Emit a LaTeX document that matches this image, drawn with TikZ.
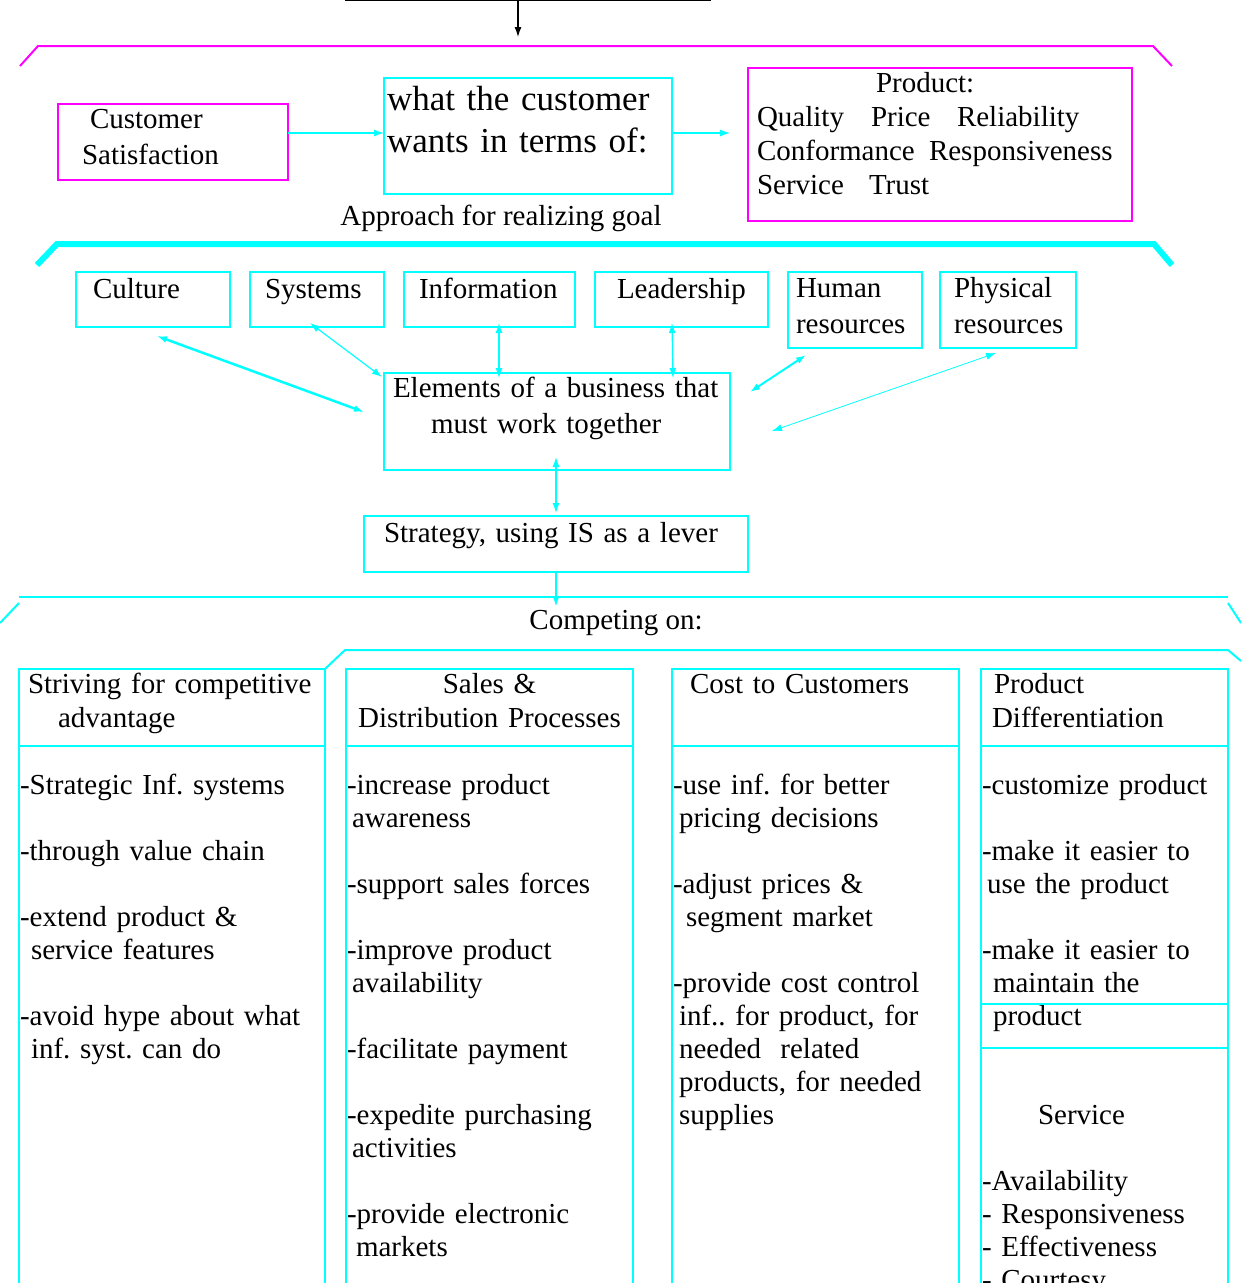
\documentclass[tikz,border=0pt]{standalone}
\usepackage{fontspec}
\setmainfont{Liberation Serif}
\usetikzlibrary{arrows.meta,positioning}
\definecolor{cy}{RGB}{0,255,255}
\definecolor{mg}{RGB}{255,0,255}
\hyphenpenalty=10000
\exhyphenpenalty=10000
\frenchspacing

\begin{document}
\begin{tikzpicture}[
    x=1pt, y=-1pt,
    every node/.style={font=\fontsize{29}{33}\selectfont},
    box/.style={rectangle, draw, line width=2pt, anchor=north west, inner ysep=0pt, outer sep=0pt, align=left},
    mbox/.style={box, draw=mg},
    cbox/.style={box, draw=cy},
    row/.style={cbox, text height=26pt, text depth=29pt},
    rowtwo/.style={cbox, text height=25pt, text depth=51pt, font=\fontsize{29}{36}\selectfont},
    head/.style={cbox, text height=24pt, text depth=53pt, font=\fontsize{29}{34}\selectfont},
    body/.style={cbox, inner xsep=1pt, text height=48pt, text depth=600pt},
    cline/.style={draw=cy, line width=2pt},
    arrow/.style={-{Latex[length=10pt, width=7pt]}, draw=cy, line width=1.2pt},
    darrow/.style={{Latex[length=10pt, width=7pt]}-{Latex[length=10pt, width=7pt]}, draw=cy, line width=1.2pt}
]
\useasboundingbox (0,0) rectangle (1241,1283);
\clip (0,0) rectangle (1241,1283);

\coordinate (topin) at (518,0);
\draw[line width=2pt] (345,0) -- (711,0);
\draw[-{Latex[length=10pt, width=7pt]}, line width=1.2pt] (topin) -- ++(0,37);
\draw[mg, line width=2pt] (20,66) -- (38,46) -- (1153,46) -- (1172,66);

\node[mbox, text width=182pt, inner xsep=24pt, text height=24pt, text depth=52pt, font=\fontsize{29}{36}\selectfont] (cs) at (58,104) {\hspace*{8pt}Customer\\Satisfaction};
\node[cbox, text width=282pt, inner xsep=3pt, text height=32pt, text depth=84pt, font=\fontsize{35}{42}\selectfont] (want) at (384,78) {what the customer\\wants in terms of:};
\node[mbox, text width=366pt, inner xsep=9pt, text height=24pt, text depth=129pt, font=\fontsize{29}{34}\selectfont] (prod) at (748,68) {\hspace*{119pt}Product:\\\makebox[114pt][l]{Quality}\makebox[86pt][l]{Price}Reliability\\\makebox[172pt][l]{Conformance}Responsiveness\\\makebox[112pt][l]{Service}Trust};
\node[anchor=base] (goal) at (501,225) {Approach for realizing goal};
\coordinate (prodin) at (730,133);

\draw[arrow] ([yshift=9pt]cs.east) -- ([yshift=9pt]cs.east -| want.west);
\draw[arrow] (want.east |- prodin) -- (prodin);

\draw[cy, line width=6pt] (37,265) -- (57,244) -- (1154,244) -- (1172,265);

\node[row, text width=120pt, inner xsep=17pt] (culture) at (76,272) {Culture};
\node[row, text width=104pt, inner xsep=15pt] (systems) at (250,272) {Systems};
\node[row, text width=141pt, inner xsep=15pt] (info) at (404,272) {Information};
\node[row, text width=129pt, inner xsep=22pt] (lead) at (595,272) {Leadership};
\node[rowtwo, text width=118pt, inner xsep=8pt] (human) at (788,272) {Human\\resources};
\node[rowtwo, text width=108pt, inner xsep=14pt] (phys) at (940,272) {Physical\\resources};
\node[cbox, text width=328pt, inner xsep=9pt, text height=24pt, text depth=73pt, font=\fontsize{29}{36}\selectfont] (elem) at (384,373) {Elements of a business that\\\hspace*{38pt}must work together};
\node[cbox, text width=344pt, inner xsep=20pt, text height=26pt, text depth=30pt] (strat) at (364,516) {Strategy, using IS as a lever};

\draw[darrow, line width=2.5pt] ([shift={(4,9)}]culture.south) -- ([shift={(-20,-9.5)}]elem.west);
\draw[darrow] ([shift={(-7,-4)}]systems.south) -- ([shift={(-2,4)}]elem.north west);
\draw[darrow] ([shift={(9.5,-4)}]info.south) -- ([shift={(-58,5)}]elem.north);
\draw[darrow] ([shift={(-9.5,-4)}]lead.south) -- ([shift={(116,5)}]elem.north);
\draw[darrow, line width=2pt] ([shift={(-49,7)}]human.south) -- ([shift={(20,19)}]elem.north east);
\draw[darrow, line width=0.8pt] ([shift={(-12,5)}]phys.south) -- ([shift={(42,9.5)}]elem.east);
\draw[darrow] ([shift={(-1,-13)}]elem.south) -- ([yshift=3pt]strat.north);

\node[anchor=base] (compete) at (616,629) {Competing on:};
\draw[arrow] (strat.south) -- (strat.south |- compete.north);

\draw[cline] (0,623) -- (19,603);
\draw[cline] (19,597) -- (1228,597);
\draw[cline] (1228,603) -- (1241,623);
\draw[cline] (325,669) -- (345,650) -- (1228,650) -- (1241,661);

\node[head, text width=288pt, inner xsep=9pt] (strive) at (19,669) {Striving for competitive\\\hspace*{30pt}advantage};
\node[head, text width=279pt, inner xsep=4pt, align=center] (sales) at (346,669) {Sales \&\\Distribution Processes};
\node[head, text width=251pt, inner xsep=18pt] (cost) at (672,669) {Cost to Customers};
\node[head, text width=225pt, inner xsep=11pt] (diff) at (981,669) {\hspace*{2pt}Product\\Differentiation};

\node[body, text width=304pt] (strivebody) at (19,746) {-Strategic Inf. systems\\[33pt]-through value chain\\[33pt]-extend product \&\\\hspace*{11pt}service features\\[33pt]-avoid hype about what\\\hspace*{11pt}inf. syst. can do};
\node[body, text width=285pt] (salesbody) at (346,746) {-increase product\\\hspace*{5pt}awareness\\[33pt]-support sales forces\\[33pt]-improve product\\\hspace*{5pt}availability\\[33pt]-facilitate payment\\[33pt]-expedite purchasing\\\hspace*{5pt}activities\\[33pt]-provide electronic\\\hspace*{9pt}markets};
\node[body, text width=285pt] (costbody) at (672,746) {-use inf. for better\\\hspace*{6pt}pricing decisions\\[33pt]-adjust prices \&\\\hspace*{13pt}segment market\\[33pt]-provide cost control\\\hspace*{6pt}inf.. for product, for\\\hspace*{6pt}needed\ \ related\\\hspace*{6pt}products, for needed\\\hspace*{6pt}supplies};
\node[body, text width=245pt] (diffbody) at (981,746) {-customize product\\[33pt]-make it easier to\\\hspace*{5pt}use the product\\[33pt]-make it easier to\\\hspace*{11pt}maintain the\\\hspace*{11pt}product\\[66pt]\hspace*{56pt}Service\\[33pt]-Availability\\- Responsiveness\\- Effectiveness\\- Courtesy};
\draw[cline] ([shift={(0,258)}]diffbody.north west) -- ([shift={(0,258)}]diffbody.north east);
\draw[cline] ([shift={(0,302)}]diffbody.north west) -- ([shift={(0,302)}]diffbody.north east);
\end{tikzpicture}
\end{document}
